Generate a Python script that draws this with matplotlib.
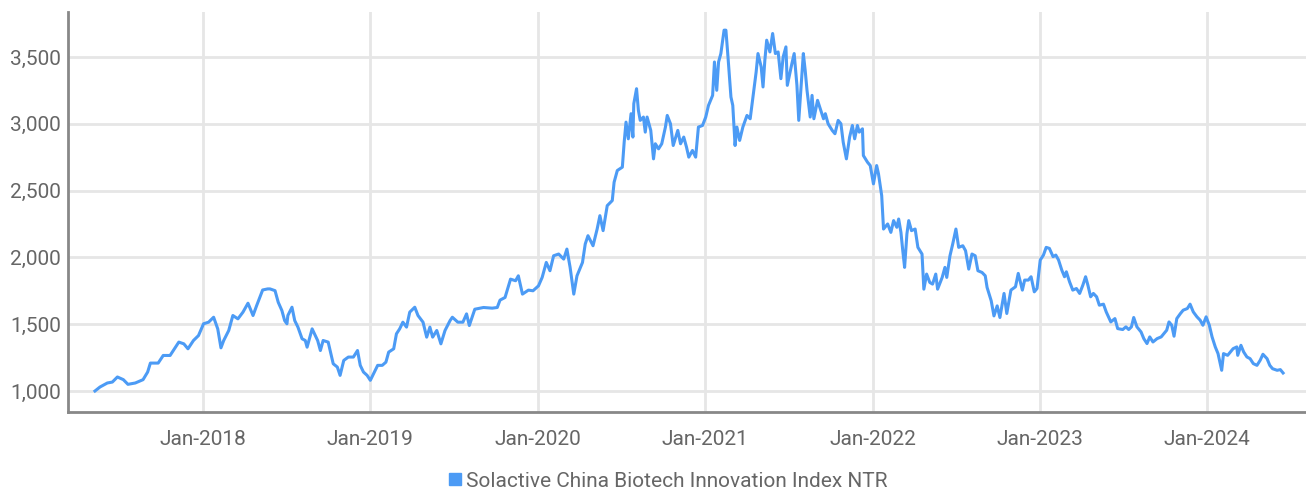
import matplotlib
matplotlib.use("Agg")

import pandas as pd
import matplotlib.pyplot as plt
import matplotlib.dates as mdates
from matplotlib.ticker import FuncFormatter, FixedLocator
from matplotlib.lines import Line2D

plt.rcParams['font.family'] = ['Roboto', 'DejaVu Sans']

# Solactive China Biotech Innovation Index NTR
dates = [
    "2017-05-10", "2017-05-21", "2017-06-06", "2017-06-17", "2017-06-28", "2017-07-11", "2017-07-21",
    "2017-08-06", "2017-08-23", "2017-09-02", "2017-09-08", "2017-09-25", "2017-10-06", "2017-10-21",
    "2017-11-09", "2017-11-20", "2017-11-29", "2017-12-11", "2017-12-22",
    "2018-01-02", "2018-01-13", "2018-01-24", "2018-02-02", "2018-02-09", "2018-02-15", "2018-02-26",
    "2018-03-07", "2018-03-18", "2018-03-29", "2018-04-09", "2018-04-20", "2018-04-28", "2018-05-11",
    "2018-05-22", "2018-05-27", "2018-06-07", "2018-06-14", "2018-06-22", "2018-06-28", "2018-07-03",
    "2018-07-05", "2018-07-14", "2018-07-20", "2018-07-27", "2018-08-05", "2018-08-12", "2018-08-16",
    "2018-08-27", "2018-09-08", "2018-09-14", "2018-09-20", "2018-10-01", "2018-10-12", "2018-10-21",
    "2018-10-27", "2018-11-04", "2018-11-14", "2018-11-25", "2018-12-04", "2018-12-10", "2018-12-17",
    "2018-12-25",
    "2019-01-01", "2019-01-08", "2019-01-17", "2019-01-27", "2019-02-04", "2019-02-10", "2019-02-21",
    "2019-02-27", "2019-03-06", "2019-03-13", "2019-03-21", "2019-03-28", "2019-04-08", "2019-04-15",
    "2019-04-26", "2019-05-04", "2019-05-11", "2019-05-17", "2019-05-26", "2019-06-04", "2019-06-13",
    "2019-06-24", "2019-06-29", "2019-07-11", "2019-07-22", "2019-07-30", "2019-08-05", "2019-08-17",
    "2019-09-05", "2019-09-24", "2019-10-05", "2019-10-11", "2019-10-22", "2019-11-03", "2019-11-14",
    "2019-11-20", "2019-11-29", "2019-12-12", "2019-12-22",
    "2020-01-03", "2020-01-11", "2020-01-20", "2020-01-28", "2020-02-05", "2020-02-16", "2020-02-27",
    "2020-03-05", "2020-03-12", "2020-03-20", "2020-03-27", "2020-04-08", "2020-04-14", "2020-04-20",
    "2020-05-01", "2020-05-10", "2020-05-16", "2020-05-23", "2020-06-01", "2020-06-12", "2020-06-16",
    "2020-06-23", "2020-07-04", "2020-07-08", "2020-07-12", "2020-07-17", "2020-07-23", "2020-07-27",
    "2020-07-29", "2020-08-04", "2020-08-08", "2020-08-12", "2020-08-19", "2020-08-23", "2020-08-27",
    "2020-09-04", "2020-09-10", "2020-09-14", "2020-09-21", "2020-09-28", "2020-10-06", "2020-10-10",
    "2020-10-17", "2020-10-23", "2020-11-02", "2020-11-08", "2020-11-15", "2020-11-21", "2020-11-26",
    "2020-12-04", "2020-12-11", "2020-12-17", "2020-12-26",
    "2021-01-02", "2021-01-08", "2021-01-17", "2021-01-21", "2021-01-26", "2021-01-30", "2021-02-04",
    "2021-02-11", "2021-02-15", "2021-02-19", "2021-02-26", "2021-03-02", "2021-03-07", "2021-03-11",
    "2021-03-17", "2021-03-24", "2021-04-02", "2021-04-09", "2021-04-15", "2021-04-22", "2021-04-26",
    "2021-05-03", "2021-05-07", "2021-05-11", "2021-05-15", "2021-05-22", "2021-05-28", "2021-06-03",
    "2021-06-09", "2021-06-15", "2021-06-20", "2021-06-26", "2021-06-29", "2021-07-09", "2021-07-14",
    "2021-07-20", "2021-07-24", "2021-08-03", "2021-08-07", "2021-08-11", "2021-08-18", "2021-08-22",
    "2021-08-26", "2021-09-03", "2021-09-09", "2021-09-16", "2021-09-20", "2021-09-26", "2021-10-05",
    "2021-10-11", "2021-10-18", "2021-10-24", "2021-10-29", "2021-11-05", "2021-11-12", "2021-11-18",
    "2021-11-23", "2021-11-29", "2021-12-03", "2021-12-10", "2021-12-12", "2021-12-21", "2021-12-27",
    "2022-01-03", "2022-01-10", "2022-01-14", "2022-01-21", "2022-01-25", "2022-02-03", "2022-02-10",
    "2022-02-16", "2022-02-23", "2022-02-27", "2022-03-04", "2022-03-08", "2022-03-12", "2022-03-17",
    "2022-03-21", "2022-03-27", "2022-04-04", "2022-04-10", "2022-04-19", "2022-04-23", "2022-04-29",
    "2022-05-06", "2022-05-12", "2022-05-19", "2022-05-23", "2022-06-02", "2022-06-08", "2022-06-12",
    "2022-06-19", "2022-06-25", "2022-07-02", "2022-07-08", "2022-07-17", "2022-07-23", "2022-07-30",
    "2022-08-06", "2022-08-13", "2022-08-19", "2022-08-28", "2022-09-04", "2022-09-08", "2022-09-17",
    "2022-09-23", "2022-09-30", "2022-10-06", "2022-10-15", "2022-10-21", "2022-10-30", "2022-11-09",
    "2022-11-15", "2022-11-24", "2022-11-29", "2022-12-07", "2022-12-13", "2022-12-20", "2022-12-26",
    "2023-01-02", "2023-01-09", "2023-01-15", "2023-01-22", "2023-01-30", "2023-02-05", "2023-02-11",
    "2023-02-18", "2023-02-24", "2023-02-28", "2023-03-07", "2023-03-14", "2023-03-22", "2023-03-29",
    "2023-04-05", "2023-04-11", "2023-04-16", "2023-04-22", "2023-04-28", "2023-05-05", "2023-05-11",
    "2023-05-20", "2023-05-26", "2023-06-05", "2023-06-14", "2023-06-20", "2023-07-01", "2023-07-08",
    "2023-07-14", "2023-07-20", "2023-07-25", "2023-08-01", "2023-08-10", "2023-08-16", "2023-08-23",
    "2023-08-29", "2023-09-05", "2023-09-14", "2023-09-23", "2023-09-29", "2023-10-05", "2023-10-10",
    "2023-10-16", "2023-10-21", "2023-10-27", "2023-11-04", "2023-11-10", "2023-11-19", "2023-11-25",
    "2023-12-02", "2023-12-10", "2023-12-17", "2023-12-23", "2023-12-30",
    "2024-01-06", "2024-01-12", "2024-01-19", "2024-01-25", "2024-02-02", "2024-02-06", "2024-02-15",
    "2024-02-21", "2024-02-27", "2024-03-06", "2024-03-08", "2024-03-15", "2024-03-21", "2024-03-28",
    "2024-04-04", "2024-04-11", "2024-04-19", "2024-04-26", "2024-05-02", "2024-05-11", "2024-05-17",
    "2024-05-23", "2024-06-02", "2024-06-09", "2024-06-15",
]
values = [
    1000, 1030, 1060, 1067, 1105, 1085, 1050,
    1060, 1085, 1142, 1209, 1209, 1266, 1266,
    1366, 1353, 1316, 1378, 1415,
    1503, 1515, 1552, 1465, 1323, 1378, 1453,
    1565, 1540, 1590, 1657, 1565, 1640, 1756,
    1764, 1764, 1751, 1664, 1602, 1527, 1503,
    1565, 1627, 1527, 1478, 1391, 1378, 1328,
    1465, 1378, 1303, 1378, 1366, 1204, 1179,
    1117, 1229, 1254, 1254, 1303, 1192, 1142,
    1117,
    1080, 1129, 1192, 1192, 1216, 1291, 1316,
    1428, 1465, 1515, 1478, 1590, 1627, 1565,
    1515, 1403, 1478, 1403, 1453, 1353, 1453,
    1527, 1552, 1515, 1515, 1577, 1490, 1612,
    1625, 1620, 1625, 1680, 1700, 1837, 1825,
    1862, 1725, 1755, 1750,
    1787, 1850, 1962, 1900, 2012, 2025, 1987,
    2062, 1925, 1725, 1862, 1962, 2100, 2162,
    2087, 2212, 2312, 2200, 2387, 2425, 2562,
    2650, 2675, 2862, 3012, 2887, 3075, 2900,
    3150, 3262, 3100, 3025, 3050, 2937, 3050,
    2950, 2737, 2850, 2812, 2850, 2975, 3062,
    3000, 2837, 2950, 2850, 2900, 2825, 2750,
    2800, 2750, 2975, 2987,
    3050, 3137, 3212, 3462, 3250, 3462, 3525,
    3700, 3700, 3525, 3200, 3137, 2837, 2975,
    2875, 2975, 3062, 3037, 3200, 3387, 3525,
    3425, 3275, 3475, 3625, 3537, 3675, 3525,
    3537, 3337, 3500, 3575, 3287, 3450, 3525,
    3287, 3025, 3525, 3400, 3250, 3050, 3212,
    3037, 3175, 3112, 3037, 3075, 3000, 2950,
    2925, 3025, 3000, 2862, 2737, 2900, 2987,
    2887, 2987, 2937, 2962, 2762, 2712, 2687,
    2550, 2687, 2625, 2462, 2212, 2250, 2187,
    2275, 2225, 2287, 2187, 2050, 1925, 2175,
    2275, 2200, 2212, 2075, 2025, 1762, 1875,
    1812, 1800, 1875, 1762, 1850, 1925, 1850,
    2012, 2100, 2212, 2075, 2087, 2050, 1912,
    2025, 2012, 1900, 1887, 1862, 1775, 1675,
    1562, 1637, 1550, 1730, 1580, 1755, 1780,
    1880, 1755, 1830, 1830, 1855, 1742, 1767,
    1980, 2017, 2075, 2067, 2005, 2017, 1980,
    1905, 1855, 1892, 1817, 1755, 1767, 1730,
    1792, 1855, 1792, 1705, 1730, 1705, 1642,
    1650, 1592, 1517, 1542, 1467, 1460, 1480,
    1460, 1480, 1550, 1480, 1442, 1392, 1355,
    1405, 1367, 1392, 1405, 1430, 1455, 1517,
    1492, 1410, 1542, 1580, 1605, 1617, 1650,
    1592, 1555, 1530, 1492, 1555,
    1492, 1405, 1330, 1280, 1155, 1280, 1267,
    1292, 1317, 1330, 1267, 1342, 1292, 1255,
    1242, 1205, 1192, 1230, 1275, 1242, 1192,
    1167, 1155, 1160, 1135,
]
y_ticks = [1000, 1500, 2000, 2500, 3000, 3500]
x_ticks = ["2018-01-01", "2019-01-01", "2020-01-01", "2021-01-01",
           "2022-01-01", "2023-01-01", "2024-01-01"]
series_name = "Solactive China Biotech Innovation Index NTR"

line_color = "#4c9bf5"
text_color = "#666666"

dates = pd.to_datetime(dates)

fig = plt.figure(figsize=(13.06, 4.94), dpi=100)
ax = fig.add_axes([0.052, 0.166, 0.948, 0.81])

ax.plot(dates, values, color=line_color, linewidth=2.2, solid_joinstyle='round')

ax.set_xlim(pd.Timestamp("2017-03-12"), pd.Timestamp("2024-08-04"))
ax.set_ylim(843, 3837)

ax.yaxis.set_major_locator(FixedLocator(y_ticks))
ax.yaxis.set_major_formatter(FuncFormatter(lambda v, p: f"{int(v):,}"))
ax.xaxis.set_major_locator(FixedLocator(mdates.date2num(pd.to_datetime(x_ticks))))
ax.xaxis.set_major_formatter(mdates.DateFormatter("%b-%Y"))

ax.grid(True, color="#e6e6e6", linewidth=2.0)
ax.set_axisbelow(True)
for s in ["top", "right"]:
    ax.spines[s].set_visible(False)
for s in ["left", "bottom"]:
    ax.spines[s].set_color("#888888")
    ax.spines[s].set_linewidth(2.0)

ax.tick_params(axis="both", length=0, labelsize=15, colors=text_color)
ax.tick_params(axis="y", pad=5)
ax.tick_params(axis="x", pad=13)

handle = Line2D([], [], marker="s", linestyle="none", color=line_color, markersize=9)
fig.legend([handle], [series_name], loc="center", bbox_to_anchor=(668 / 1306, 1 - 481 / 494),
           frameon=False, fontsize=15, labelcolor=text_color,
           handlelength=0.6, handletextpad=0.2)

fig.savefig("out.png", dpi=100)
